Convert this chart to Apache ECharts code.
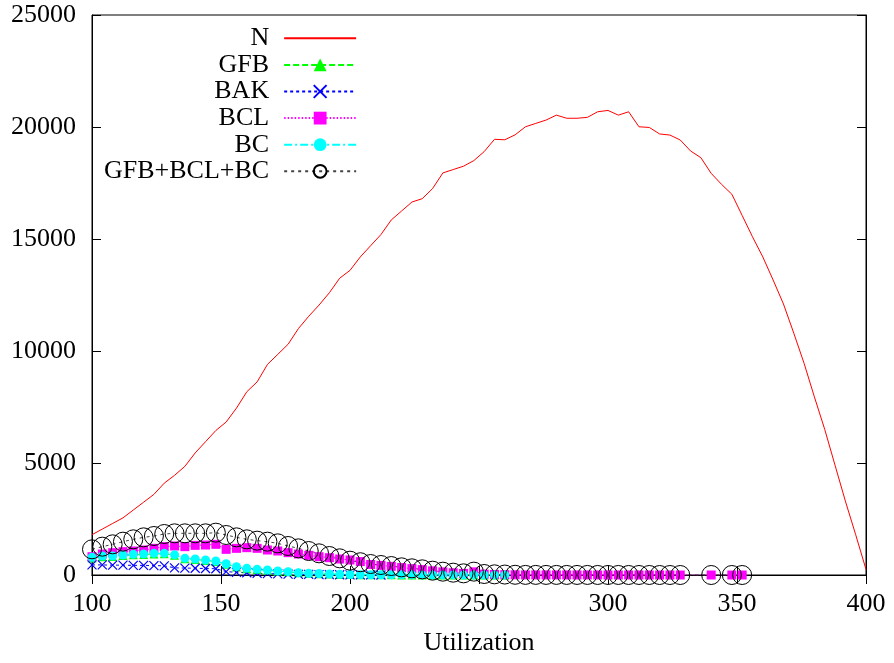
<!DOCTYPE html>
<html>
<head>
<meta charset="utf-8">
<script src="https://cdn.jsdelivr.net/npm/echarts@6/dist/echarts.min.js"></script>
<style>html,body{margin:0;padding:0;background:#fff}#c{width:894px;height:663px}</style>
</head>
<body>
<div id="c"></div>
<script>
const utilization = [100,104,108,112,116,120,124,128,132,136,140,144,148,152,156,160,164,168,172,176,180,184,188,192,196,200,204,208,212,216,220,224,228,232,236,240,244,248,252,256,260,264,268,272,276,280,284,288,292,296,300,304,308,312,316,320,324,328,332,336,340,344,348,352,356,360,364,368,372,376,380,384,388,392,396,400];

const seriesNames = ['N','GFB','BAK','BCL','BC','GFB+BCL+BC'];

const N = [1800,2050,2300,2550,2900,3250,3600,4100,4450,4850,5450,5950,6450,6830,7450,8180,8620,9400,9850,10300,11000,11550,12050,12600,13250,13600,14200,14700,15200,15850,16250,16650,16800,17250,17950,18100,18250,18500,18900,19450,19430,19650,20010,20160,20310,20530,20390,20390,20430,20680,20740,20530,20680,20010,19980,19690,19640,19420,18930,18630,17930,17440,17000,16050,15100,14200,13170,12100,10800,9450,7950,6500,4900,3300,1800,250];

const GFB = [760,820,830,870,900,915,940,945,880,725,690,650,600,480,355,280,240,210,168,140,96,74,60,40,27,17,12,9,7,6,5,4,3,3,2,2,1,1,1,0,0];

const BAK = [450,450,440,440,430,430,420,410,320,310,300,290,280,150,120,100,80,60,50,40,30,25,20,15,10,8,5,3,2];

const BCL = [817,937,997,1042,1071,1116,1190,1265,1295,1265,1324,1339,1369,1146,1190,1220,1190,1116,1071,997,937,878,817,773,714,670,600,470,430,385,330,285,240,185,140,100,70,140,40,25,15,8,5,4,4,3,3,2,2,2,1,1,1,1,0,0,0,0,null,null,0,null,0,0];

const BC = [789,848,848,893,923,937,967,967,900,744,714,670,625,500,372,298,253,223,179,149,104,80,65,45,30,20,15,12,10,8,7,6,5,4,3,3,2,2,1,1,0];

const SUM = [1146,1265,1369,1488,1592,1681,1741,1830,1860,1860,1860,1860,1890,1786,1681,1592,1533,1488,1413,1295,1190,1071,967,848,744,640,570,490,446,400,342,298,253,193,149,104,74,150,45,30,20,10,5,5,4,4,3,3,3,2,2,2,1,1,1,0,0,0,null,null,0,null,0,0];

function pairs(arr) {
  const out = [];
  for (let i = 0; i < arr.length; i++) {
    if (arr[i] !== null && arr[i] !== undefined) out.push([utilization[i], arr[i]]);
  }
  return out;
}

const font = 'Liberation Serif';
const fs = 26;
const chart = echarts.init(document.getElementById('c'), null, {renderer: 'canvas'});

const tickLen = 9;
chart.setOption({
  animation: false,
  backgroundColor: '#ffffff',
  grid: {left: 92, right: 28, top: 15, bottom: 88, show: true, borderColor: '#000', borderWidth: 1, backgroundColor: 'transparent'},
  legend: {
    orient: 'vertical',
    align: 'right',
    left: 99,
    top: 20,
    itemWidth: 72,
    itemHeight: 16,
    itemGap: 0,
    padding: 5,
    textStyle: {fontFamily: font, fontSize: fs, color: '#000', lineHeight: 26.6, padding: [0, 10, 0, 0]},
    data: [
      {name: 'N', itemStyle: {color: 'rgba(0,0,0,0)', opacity: 0}},
      'GFB', 'BAK', 'BCL', 'BC', 'GFB+BCL+BC'
    ]
  },
  xAxis: [{
    type: 'value', min: 100, max: 400, interval: 50,
    name: 'Utilization', nameLocation: 'middle', nameGap: 55,
    nameTextStyle: {fontFamily: font, fontSize: fs, color: '#000'},
    axisLine: {show: true, lineStyle: {color: '#000', width: 1}},
    axisTick: {show: true, inside: true, length: tickLen, lineStyle: {color: '#000'}},
    axisLabel: {fontFamily: font, fontSize: fs, color: '#000', margin: 16},
    splitLine: {show: false}
  }, {
    type: 'value', min: 100, max: 400, interval: 50, position: 'top',
    axisLine: {show: true, lineStyle: {color: '#000', width: 1}},
    axisTick: {show: true, inside: true, length: tickLen, lineStyle: {color: '#000'}},
    axisLabel: {show: false}, splitLine: {show: false}
  }],
  yAxis: [{
    type: 'value', min: 0, max: 25000, interval: 5000,
    axisLine: {show: true, lineStyle: {color: '#000', width: 1}},
    axisTick: {show: true, inside: true, length: tickLen, lineStyle: {color: '#000'}},
    axisLabel: {fontFamily: font, fontSize: fs, color: '#000', margin: 16, formatter: function (v) { return String(v); }},
    splitLine: {show: false}
  }, {
    type: 'value', min: 0, max: 25000, interval: 5000, position: 'right',
    axisLine: {show: true, lineStyle: {color: '#000', width: 1}},
    axisTick: {show: true, inside: true, length: tickLen, lineStyle: {color: '#000'}},
    axisLabel: {show: false}, splitLine: {show: false}
  }],
  series: [
    {
      name: 'N', type: 'line', data: pairs(N), symbol: 'none',
      lineStyle: {color: '#ff0000', width: 1},
      itemStyle: {color: '#ff0000'}
    },
    {
      name: 'GFB', type: 'line', data: pairs(GFB), symbol: 'triangle', symbolSize: 9,
      lineStyle: {color: '#00ff00', width: 1, type: [6, 3]},
      itemStyle: {color: '#00ff00'}
    },
    {
      name: 'BAK', type: 'line', data: pairs(BAK), symbol: 'path://M0,0L10,10M10,0L0,10', symbolSize: 9,
      lineStyle: {color: '#0000ff', width: 1, type: [3, 3]},
      itemStyle: {color: 'rgba(0,0,0,0)', borderColor: '#0000ff', borderWidth: 1.2}
    },
    {
      name: 'BCL', type: 'line', data: pairs(BCL), connectNulls: true, symbol: 'rect', symbolSize: 9,
      lineStyle: {color: '#ff00ff', width: 1, type: [1.5, 2]},
      itemStyle: {color: '#ff00ff'}
    },
    {
      name: 'BC', type: 'line', data: pairs(BC), symbol: 'circle', symbolSize: 9,
      lineStyle: {color: '#00ffff', width: 1, type: [8, 3, 2, 3]},
      itemStyle: {color: '#00ffff'}
    },
    {
      name: 'GFB+BCL+BC', type: 'line', data: pairs(SUM), connectNulls: true, symbol: 'circle', symbolSize: 19,
      lineStyle: {color: '#444444', width: 1, type: [3, 4]},
      itemStyle: {color: 'rgba(0,0,0,0)', borderColor: '#000', borderWidth: 1}
    }
  ]
});
</script>
</body>
</html>
